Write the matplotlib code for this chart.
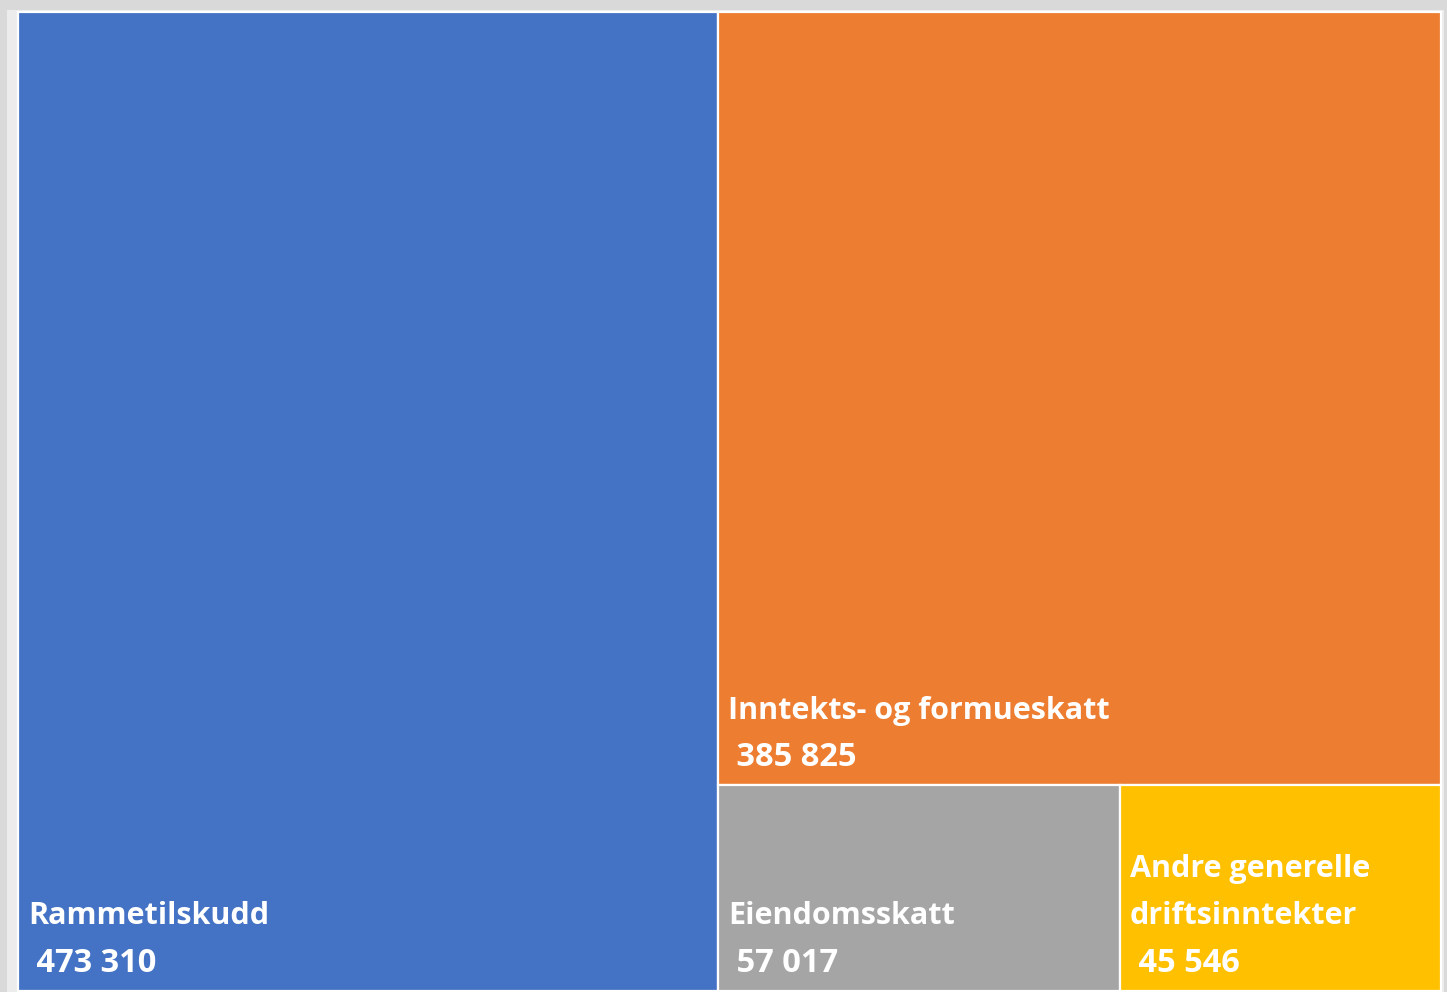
import matplotlib
matplotlib.use("Agg")
import matplotlib.pyplot as plt
from matplotlib.patches import Rectangle

# Data
categories = ["Rammetilskudd", "Inntekts- og formueskatt", "Eiendomsskatt",
              "Andre generelle\ndriftsinntekter"]
values = [473310, 385825, 57017, 45546]
colors = ["#4472C4", "#ED7D31", "#A5A5A5", "#FFC000"]

W, H = 1447, 992
fig = plt.figure(figsize=(W / 100, H / 100), dpi=100, facecolor="#d9d9d9")
ax = fig.add_axes([0, 0, 1, 1])
ax.set_xlim(0, W)
ax.set_ylim(H, 0)
ax.axis("off")

# light plot area behind treemap
ax.add_patch(Rectangle((7, 10), 1437, 990, facecolor="#ececec", edgecolor="none", zorder=0))

# Treemap box
x0, y0, x1, y1 = 18, 12, 1441, 990.5
total = sum(values)

# Layout (Excel-like): first item as a full-height column, then rest:
# second item full-width row on top, remaining items side by side below.
rects = []
w0 = (x1 - x0) * values[0] / total
rects.append((x0, y0, w0, y1 - y0))
rx = x0 + w0
rw = x1 - rx
rest = total - values[0]
h1 = (y1 - y0) * values[1] / rest
rects.append((rx, y0, rw, h1))
ry = y0 + h1
rh = y1 - ry
rest2 = values[2] + values[3]
cx = rx
for v in values[2:]:
    w = rw * v / rest2
    rects.append((cx, ry, w, rh))
    cx += w

fam = ["Open Sans", "DejaVu Sans"]
name_font = dict(family=fam, fontweight="bold", fontsize=22, color="white")
num_font = dict(family=fam, fontweight="bold", fontsize=23.5, color="white")
line_gap = 47
for (x, y, w, h), cat, val, col in zip(rects, categories, values, colors):
    ax.add_patch(Rectangle((x, y), w, h, facecolor=col, edgecolor="white",
                           linewidth=1.6, zorder=1))
    lines = cat.split("\n")
    base = y + h - 19
    ax.text(x + 10, base, " " + f"{val:,}".replace(",", " "), ha="left",
            va="baseline", zorder=2, **num_font)
    for i, ln in enumerate(reversed(lines)):
        ax.text(x + 10, base - (i + 1) * line_gap, ln, ha="left", va="baseline",
                zorder=2, **name_font)

fig.savefig("out.png", dpi=100, facecolor=fig.get_facecolor())
